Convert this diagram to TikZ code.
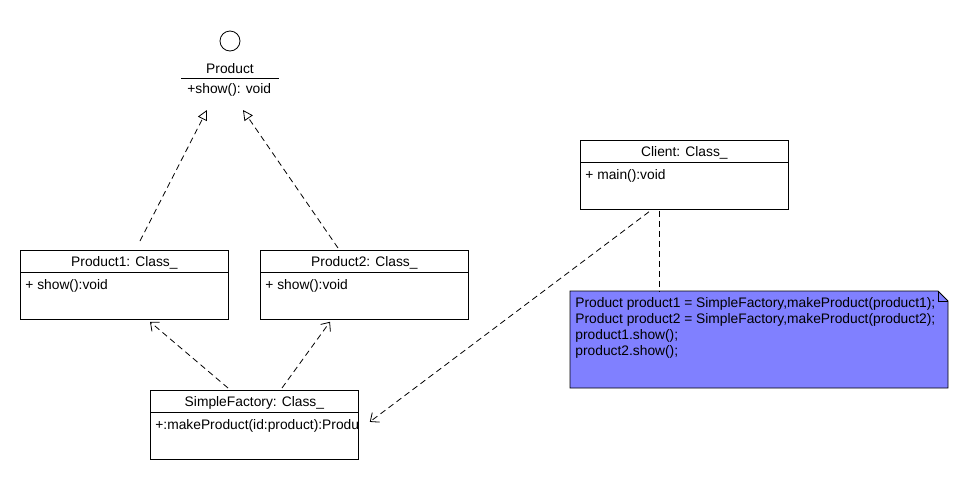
\documentclass[tikz,border=0pt]{standalone}
\usepackage{fontspec}
\setmainfont{Liberation Sans}
\usetikzlibrary{arrows.meta,calc}
\definecolor{notefill}{RGB}{128,128,255}
\tikzstyle{classbox} = [draw=black, fill=white, rectangle, anchor=north west, minimum width=208pt, minimum height=69pt, inner sep=0pt]
\tikzstyle{classtitle} = [font=\umlfont, inner sep=0pt]
\tikzstyle{member} = [font=\umlfont, anchor=west, inner sep=0pt]
\tikzstyle{realize} = [dash pattern=on 6pt off 4pt, -{Triangle[open,length=10pt,width=10pt]}]
\tikzstyle{depend} = [dash pattern=on 6pt off 4pt, -{Straight Barb[length=7pt,width=12pt]}]
\tikzstyle{notelink} = [dash pattern=on 6pt off 4pt]
\newcommand{\umlfont}{\fontsize{13.8}{16}\selectfont}
\newcommand{\umlclass}[5]{%
  \node[classbox] (#1) at (#2,#3) {};
  \draw ($(#1.north west)+(0,22)$) -- ($(#1.north east)+(0,22)$);
  \node[classtitle] (#1-name) at ($(#1.north)+(0,13)$) {#4};
  \begin{scope}
    \clip (#1.north west) rectangle (#1.south east);
    \node[member] (#1-op) at ($(#1.north west)+(5,35.5)$) {#5};
  \end{scope}
}

\begin{document}
\begin{tikzpicture}[x=1pt,y=-1pt,line width=0.8pt]
\useasboundingbox (0,0) rectangle (970,480);
% interface Product
\node[circle, draw, minimum size=20pt, inner sep=0pt] (iface) at (230,41) {};
\node[classtitle] (iface-name) at (230,69) {Product};
\draw (181,78) -- (279,78);
\node[member] (iface-op) at (187,90) {+show(): void};
\coordinate (iface-l) at (207,110);
\coordinate (iface-r) at (243,110);

% classes
\umlclass{p1}{20}{250}{Product1: Class\_}{+ show():void}
\umlclass{p2}{260}{250}{Product2: Class\_}{+ show():void}
\umlclass{sf}{150}{390}{SimpleFactory: Class\_}{+:makeProduct(id:product):Product}
\umlclass{client}{580}{140}{Client: Class\_}{+ main():void}

% note
\coordinate (note-nw) at (570,291);
\filldraw[fill=notefill] (note-nw) -- (938,291) -- (948,301) -- (948,388) -- (570,388) -- cycle;
\draw (938,291) -- (938,301) -- (948,301);
\node[member, anchor=north west, align=left] (note) at (575,297.5)
  {Product product1 = SimpleFactory,makeProduct(product1);\\
   Product product2 = SimpleFactory,makeProduct(product2);\\
   product1.show();\\
   product2.show();};
\coordinate (note-top) at (659,291);

% connectors
\draw[realize] ($(p1.north west)+(120,-9)$) -- (iface-l);
\draw[realize] ($(p2.north west)+(78,-2)$) -- (iface-r);
\draw[depend] ($(sf.north west)+(78,-2)$) -- ($(p1.south west)+(130,2)$);
\draw[depend] ($(sf.north west)+(132,-2)$) -- ($(p2.south west)+(70,2)$);
\draw[depend] ($(client.south west)+(69,2)$) -- ($(sf.east)+(11,-3)$);
\draw[notelink] ($(client.south west)+(79,1)$) -- (note-top);
\end{tikzpicture}
\end{document}
